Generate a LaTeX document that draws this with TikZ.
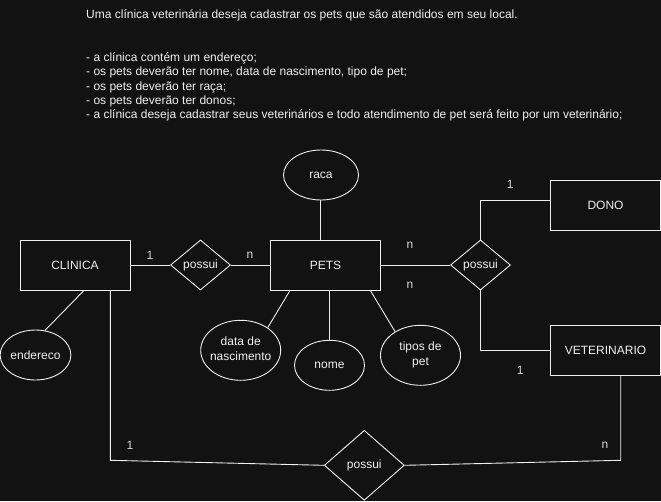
\documentclass[tikz,border=0pt]{standalone}
\usepackage{fontspec}
\setmainfont{Liberation Sans}
\usetikzlibrary{shapes.geometric}
\definecolor{bg}{HTML}{121212}
\definecolor{fg}{HTML}{F0F0F0}
\definecolor{lbl}{HTML}{D8D8D8}
\begin{document}
\begin{tikzpicture}[x=1pt,y=-1pt,
  every node/.style={text=fg, font=\fontsize{12}{15}\selectfont},
  conn/.style={draw=fg, line width=0.9pt},
  entity/.style={draw=fg, line width=0.9pt, rectangle, minimum width=110pt, minimum height=50pt, inner sep=0pt},
  rel/.style={draw=fg, line width=0.9pt, diamond, inner sep=0pt},
  attr/.style={draw=fg, line width=0.9pt, ellipse, inner sep=0pt},
  card/.style={text=lbl, inner sep=0pt},
  hdr/.style={anchor=base west, inner sep=0pt}]
\fill[bg] (0,0) rectangle (661,501);
\useasboundingbox (0,0) rectangle (661,501);

% header text
\node[hdr] (h0) at (86,18.5) {Uma clínica veterinária deseja cadastrar os pets que são atendidos em seu local.};
\node[hdr] (h1) at (86,61.4) {- a clínica contém um endereço;};
\node[hdr] (h2) at (86,75.7) {- os pets deverão ter nome, data de nascimento, tipo de pet;};
\node[hdr] (h3) at (86,90.0) {- os pets deverão ter raça;};
\node[hdr] (h4) at (86,104.3) {- os pets deverão ter donos;};
\node[hdr] (h5) at (86,118.6) {- a clínica deseja cadastrar seus veterinários e todo atendimento de pet será feito por um veterinário;};

% entities
\node[entity] (clinica) at (75,265) {CLINICA};
\node[entity] (pets) at (325.5,265) {PETS};
\node[entity] (dono) at (605.5,205) {DONO};
\node[entity] (vet) at (605.5,350) {VETERINARIO};

% relationships
\node[rel, minimum width=60pt, minimum height=50pt] (p1) at (200.5,265) {possui};
\node[rel, minimum width=60pt, minimum height=50pt] (p2) at (480.5,265) {possui};
\node[rel, minimum width=80pt, minimum height=70pt] (p3) at (364.3,465.3) {possui};

% attributes
\node[attr, minimum width=75pt, minimum height=50pt] (raca) at (321,175) {raca};
\node[attr, minimum width=70pt, minimum height=50pt] (end) at (35.5,355) {endereco};
\node[attr, minimum width=80pt, minimum height=60pt] (data) at (240.7,350.3)
  {\makebox[0pt]{\begin{tabular}{@{}c@{}}data de\\nascimento\end{tabular}}};
\node[attr, minimum width=70pt, minimum height=50pt] (nome) at (329.5,365.3) {nome};
\node[attr, minimum width=80pt, minimum height=60pt] (tipos) at (420.5,355.3)
  {\makebox[0pt]{\begin{tabular}{@{}c@{}}tipos de\\pet\end{tabular}}};

% helper coordinates
\coordinate (c1) at (110.3,460.3);
\coordinate (c2) at (620.7,460.3);
\coordinate (c3) at (480.5,200.7);
\coordinate (c4) at (480.5,350);

% connectors
\draw[conn] (clinica) -- (p1);
\draw[conn] (p1) -- (pets);
\draw[conn] (pets) -- (p2);
\draw[conn] (p2.north) -- (c3) -- (dono.west |- c3);
\draw[conn] (p2.south) -- (c4) -- (vet.west |- c4);
\draw[conn] (raca.south -| pets.north) ++(-4.8,0) coordinate (rs) (rs) -- (rs |- pets.north);
\draw[conn] (clinica.south -| 84,0) -- (end.69);
\draw[conn] (pets.south -| 290,0) -- (data.40);
\draw[conn] (pets.south -| nome.north) -- (nome.north);
\draw[conn] (pets.south -| 370.3,0) -- (tipos.137);
\draw[conn] (clinica.south -| c1) -- (c1) -- (p3.west);
\draw[conn] (p3.east) -- (c2) -- (vet.south -| c2);

% cardinalities
\node[card] (k1) at (150,255) {1};
\node[card] (k2) at (250,255) {n};
\node[card] (k3) at (410,245.5) {n};
\node[card] (k4) at (410,285.3) {n};
\node[card] (k5) at (510.3,184.3) {1};
\node[card] (k6) at (520.3,370) {1};
\node[card] (k7) at (130,445) {1};
\node[card] (k8) at (605,445) {n};
\end{tikzpicture}
\end{document}
